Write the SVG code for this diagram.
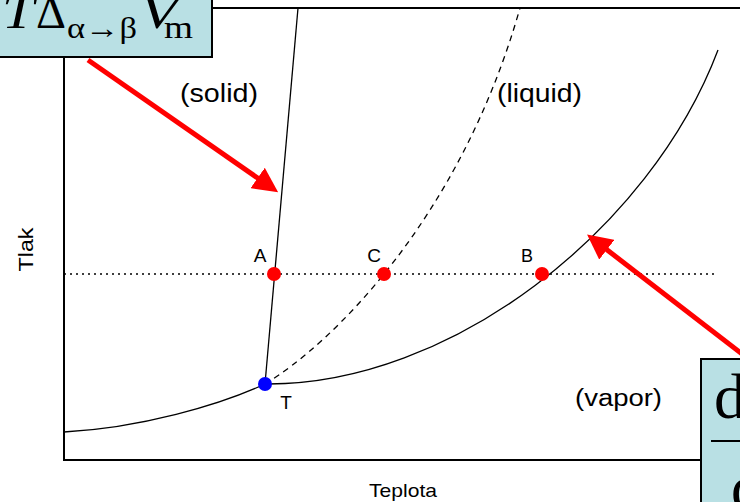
<svg xmlns="http://www.w3.org/2000/svg" width="740" height="502" viewBox="0 0 740 502">
<style>
.ax{fill:none;stroke:#000;stroke-width:2}
.cv{fill:none;stroke:#000;stroke-width:1.3}
.lbl{font-family:"Liberation Sans",Arial,sans-serif;fill:#000}
.math{font-family:"Liberation Serif","Times New Roman",serif;fill:#000}
.box{fill:#b9e0e4;stroke:#000;stroke-width:2}
.arr{stroke:#ff0000;stroke-width:5;fill:none}
</style>
<defs>
<marker id="ah" markerWidth="5" markerHeight="5" refX="3.5" refY="2.5" orient="auto" markerUnits="strokeWidth">
<path d="M0,0 L5,2.5 L0,5 Z" fill="#ff0000"/>
</marker>
</defs>
<rect width="740" height="502" fill="#fff"/>
<g id="frame">
<rect class="ax" x="64" y="8" width="720" height="452"/>
</g>
<g id="connectors">
<line x1="64" y1="274" x2="716" y2="274" stroke="#000" stroke-width="1.3" stroke-dasharray="2,4"/>
<line class="cv" x1="265" y1="384" x2="298" y2="8"/>
<path class="cv" d="M265,384 C330,345 460,220 520,8" stroke-dasharray="6,5"/>
<path class="cv" d="M64,432 C140,428 220,405 265,384"/>
<path class="cv" d="M265,384 C450,386 650,230 718,50"/>
<line class="arr" x1="88" y1="60" x2="272" y2="188" marker-end="url(#ah)"/>
<line class="arr" x1="742" y1="354" x2="593" y2="239" marker-end="url(#ah)"/>
</g>
<g id="pointA"><circle cx="274" cy="274" r="7" fill="#ff0000"/><text class="lbl" x="260" y="262" font-size="19" text-anchor="middle">A</text></g>
<g id="pointC"><circle cx="384" cy="274" r="7" fill="#ff0000"/><text class="lbl" x="374" y="262" font-size="19" text-anchor="middle">C</text></g>
<g id="pointB"><circle cx="542" cy="274" r="7" fill="#ff0000"/><text class="lbl" x="527" y="262" font-size="18" text-anchor="middle">B</text></g>
<g id="pointT"><circle cx="265" cy="384" r="7" fill="#0000ff"/><text class="lbl" x="286" y="409" font-size="19" text-anchor="middle">T</text></g>
<g id="regions">
<text class="lbl" x="180" y="102" font-size="25" textLength="78" lengthAdjust="spacingAndGlyphs">(solid)</text>
<text class="lbl" x="497" y="102" font-size="25" textLength="85" lengthAdjust="spacingAndGlyphs">(liquid)</text>
<text class="lbl" x="575" y="406" font-size="23" textLength="87" lengthAdjust="spacingAndGlyphs">(vapor)</text>
<text class="lbl" x="369" y="497" font-size="19" textLength="68" lengthAdjust="spacingAndGlyphs">Teplota</text>
<text class="lbl" x="33" y="249.5" font-size="21" text-anchor="middle" textLength="44" lengthAdjust="spacingAndGlyphs" transform="rotate(-90 33 249.5)">Tlak</text>
</g>
<g id="formula1">
<rect class="box" x="-10" y="-10" width="222" height="67"/>
<text class="math" x="2" y="28" font-size="46" font-style="italic" textLength="32" lengthAdjust="spacingAndGlyphs">T</text>
<text class="math" x="36" y="28" font-size="46" textLength="30" lengthAdjust="spacingAndGlyphs">Δ</text>
<text class="math" x="67" y="38" font-size="30" textLength="70" lengthAdjust="spacingAndGlyphs">α→β</text>
<text class="math" x="140" y="28" font-size="46" font-style="italic" textLength="38" lengthAdjust="spacingAndGlyphs">V</text>
<text class="math" x="164" y="38" font-size="31" textLength="29" lengthAdjust="spacingAndGlyphs">m</text>
</g>
<g id="formula2">
<rect class="box" x="701" y="359" width="60" height="160"/>
<text class="math" x="714" y="418" font-size="64">d</text>
<line x1="711" y1="441" x2="745" y2="441" stroke="#000" stroke-width="2"/>
<text class="math" x="731" y="509" font-size="64">d</text>
</g>
</svg>
